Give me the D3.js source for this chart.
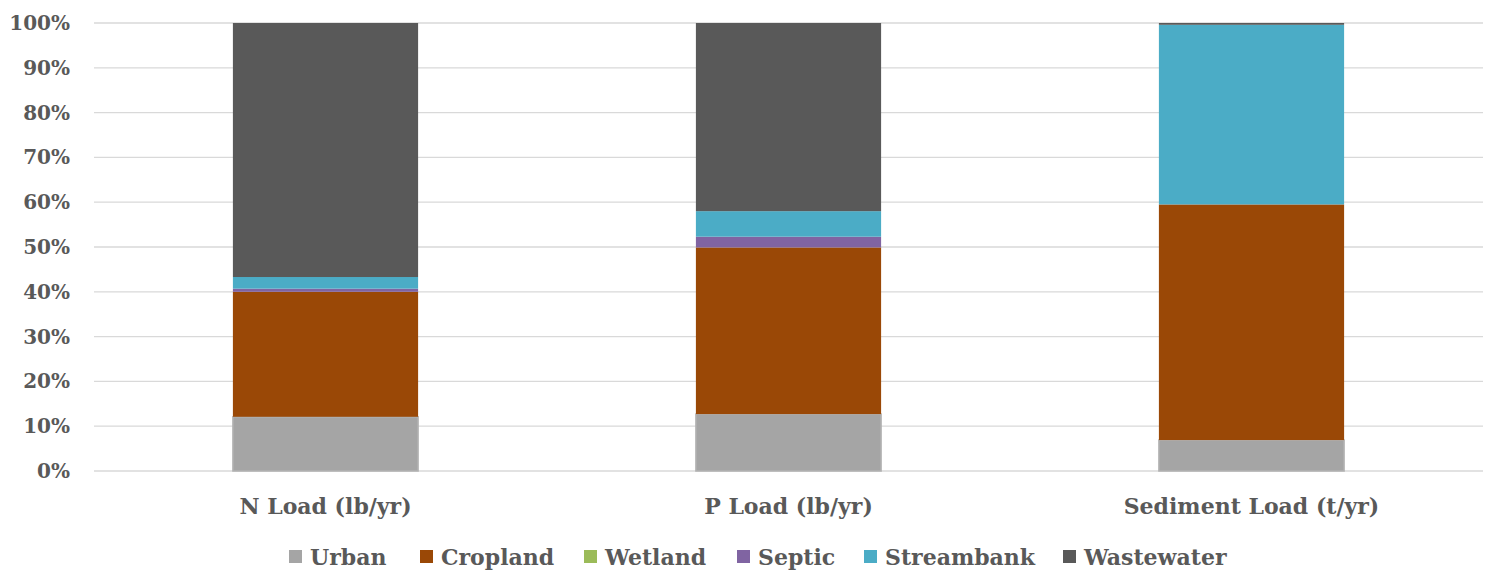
<!DOCTYPE html>
<html>
<head>
<meta charset="utf-8">
<script src="https://cdn.jsdelivr.net/npm/d3@7"></script>
<style>
  html, body { margin: 0; padding: 0; background: #fff; }
  svg text { font-family: "DejaVu Serif", "Liberation Serif", serif; font-weight: bold; fill: #595959; }
</style>
</head>
<body>
<svg id="chart" width="1489" height="574"></svg>
<script>
// Share of each load by source (percent)
const categories = ["N Load (lb/yr)", "P Load (lb/yr)", "Sediment Load (t/yr)"];
const sources = ["Urban", "Cropland", "Wetland", "Septic", "Streambank", "Wastewater"];
const urban      = [12.1, 12.7, 6.9];
const cropland   = [27.9, 37.2, 52.6];
const wetland    = [0.0, 0.0, 0.0];
const septic     = [0.7, 2.4, 0.0];
const streambank = [2.6, 5.7, 40.1];
const wastewater = [56.7, 42.0, 0.4];
const yTicks = [0, 10, 20, 30, 40, 50, 60, 70, 80, 90, 100];
const colors = ["#a5a5a5", "#9a4806", "#9bbb59", "#8064a2", "#4bacc6", "#595959"];

const seriesValues = [urban, cropland, wetland, septic, streambank, wastewater];
const rows = categories.map((c, i) => {
  const r = { category: c };
  sources.forEach((s, k) => { r[s] = seriesValues[k][i]; });
  return r;
});

const svg = d3.select("#chart");
const margin = { left: 94, right: 6, top: 23, bottom: 103 };
const W = 1489, H = 574;

const x = d3.scaleBand().domain(categories)
  .range([margin.left, W - margin.right])
  .paddingInner(0.6).paddingOuter(0.3);
const y = d3.scaleLinear().domain([0, 100]).range([H - margin.bottom, margin.top]);

// gridlines
svg.append("g").selectAll("line").data(yTicks).join("line")
  .attr("x1", margin.left).attr("x2", W - margin.right)
  .attr("y1", d => y(d)).attr("y2", d => y(d))
  .attr("stroke", "#d9d9d9").attr("stroke-width", 1.3);

// y axis labels
const yAxis = d3.axisLeft(y).tickValues(yTicks).tickFormat(d => d + "%").tickSize(0).tickPadding(24);
const gy = svg.append("g").attr("transform", `translate(${margin.left},0)`).call(yAxis);
gy.select(".domain").remove();
gy.selectAll("text").attr("font-size", 20).attr("font-family", null);

// stacked bars
const stack = d3.stack().keys(sources);
const layers = stack(rows);
svg.append("g").selectAll("g").data(layers).join("g")
  .attr("fill", (d, i) => colors[i])
  .attr("stroke", (d, i) => i === 0 ? "#b3b3b3" : null)
  .attr("stroke-width", (d, i) => i === 0 ? 1.5 : null)
  .selectAll("rect").data(d => d).join("rect")
  .attr("x", d => x(d.data.category))
  .attr("width", x.bandwidth())
  .attr("y", d => y(d[1]))
  .attr("height", d => Math.max(0, y(d[0]) - y(d[1])));

// x axis labels
const xAxis = d3.axisBottom(x).tickSize(0).tickPadding(27);
const gx = svg.append("g").attr("transform", `translate(0,${y(0)})`).call(xAxis);
gx.select(".domain").remove();
gx.selectAll("text").attr("font-size", 22).attr("font-family", null);

// legend
const legendX = [289, 420, 584, 737, 864, 1063];
const legend = svg.append("g").selectAll("g").data(sources).join("g")
  .attr("transform", (d, i) => `translate(${legendX[i]},550)`);
legend.append("rect").attr("width", 13).attr("height", 13).attr("fill", (d, i) => colors[i]);
legend.append("text").attr("x", 21).attr("y", 15).attr("font-size", 22).text(d => d);
</script>
</body>
</html>
